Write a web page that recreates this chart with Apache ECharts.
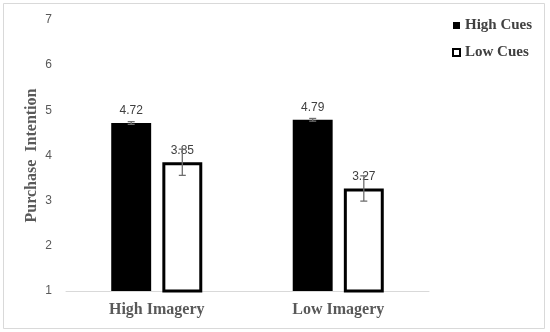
<!DOCTYPE html>
<html>
<head>
<meta charset="utf-8">
<script src="https://cdn.jsdelivr.net/npm/echarts@6/dist/echarts.min.js"></script>
<style>html,body{margin:0;padding:0;background:#fff}#c{width:550px;height:332px}</style>
</head>
<body>
<div id="c"></div>
<script>
var categories = ['High Imagery', 'Low Imagery'];
var seriesNames = ['High Cues', 'Low Cues'];
var highCues = [4.72, 4.79];
var lowCues = [3.85, 3.27];
var highCuesErr = [0.03, 0.03];
var lowCuesErr = [0.29, 0.28];
var yTicks = [1, 2, 3, 4, 5, 6, 7];

var BAR_PCT = 0.22, GAP_PCT = 0.28;

var errData = [];
[highCues, lowCues].forEach(function (vals, s) {
  var errs = s === 0 ? highCuesErr : lowCuesErr;
  vals.forEach(function (v, i) {
    errData.push([i, v - errs[i], v + errs[i], s]);
  });
});

var chart = echarts.init(document.getElementById('c'));
chart.setOption({
  animation: false,
  backgroundColor: '#fff',
  grid: { left: 66, right: 121, top: 20, bottom: 41 },
  legend: {
    orient: 'vertical',
    left: 452,
    top: 18,
    padding: 0,
    itemWidth: 7,
    itemHeight: 7,
    itemGap: 12,
    icon: 'rect',
    data: [
      { name: 'High Cues', itemStyle: { color: '#000', borderWidth: 0 } },
      { name: 'Low Cues', itemStyle: { color: '#fff', borderColor: '#000', borderWidth: 2 } }
    ],
    textStyle: { fontFamily: 'Liberation Serif', fontWeight: 'bold', fontSize: 15, color: '#404040' }
  },
  xAxis: {
    type: 'category',
    data: categories,
    axisLine: { show: true, lineStyle: { color: '#d9d9d9', width: 1 } },
    axisTick: { show: false },
    axisLabel: { fontFamily: 'Liberation Serif', fontWeight: 'bold', fontSize: 16, color: '#595959', margin: 11 }
  },
  yAxis: {
    type: 'value',
    min: yTicks[0],
    max: yTicks[yTicks.length - 1],
    interval: 1,
    name: 'Purchase  Intention',
    nameLocation: 'middle',
    nameGap: 26,
    nameMoveOverlap: false,
    nameTextStyle: { fontFamily: 'Liberation Serif', fontWeight: 'bold', fontSize: 16, color: '#595959' },
    axisLine: { show: false },
    axisTick: { show: false },
    splitLine: { show: false },
    axisLabel: { fontFamily: 'Liberation Sans', fontSize: 12, color: '#595959', margin: 14 }
  },
  series: [
    {
      name: seriesNames[0],
      type: 'bar',
      data: highCues,
      barWidth: (BAR_PCT * 100) + '%',
      barGap: (GAP_PCT * 100) + '%',
      itemStyle: { color: '#000' },
      label: { show: true, position: 'top', distance: 6, fontFamily: 'Liberation Sans', fontSize: 12, color: '#404040', formatter: function (p) { return p.value.toFixed(2); } }
    },
    {
      name: seriesNames[1],
      type: 'bar',
      data: lowCues,
      barWidth: (BAR_PCT * 100) + '%',
      barGap: (GAP_PCT * 100) + '%',
      itemStyle: { color: '#fff', borderColor: '#000', borderWidth: 3 },
      label: { show: true, position: 'top', distance: 6, fontFamily: 'Liberation Sans', fontSize: 12, color: '#404040', formatter: function (p) { return p.value.toFixed(2); } }
    },
    {
      type: 'custom',
      data: errData,
      encode: { x: 0, y: [1, 2] },
      z: 10,
      silent: true,
      renderItem: function (params, api) {
        var cat = api.value(0);
        var s = api.value(3);
        var band = api.size([1, 0])[0];
        var bw = band * BAR_PCT;
        var off = (bw + bw * GAP_PCT) / 2 * (s === 0 ? -1 : 1);
        var lo = api.coord([cat, api.value(1)]);
        var hi = api.coord([cat, api.value(2)]);
        var x = lo[0] + off;
        var hw = 3.5;
        var st = { stroke: '#6e6e6e', lineWidth: 1.3 };
        return {
          type: 'group',
          children: [
            { type: 'line', shape: { x1: x, y1: lo[1], x2: x, y2: hi[1] }, style: st },
            { type: 'line', shape: { x1: x - hw, y1: lo[1], x2: x + hw, y2: lo[1] }, style: st },
            { type: 'line', shape: { x1: x - hw, y1: hi[1], x2: x + hw, y2: hi[1] }, style: st }
          ]
        };
      }
    }
  ],
  graphic: [
    { type: 'rect', shape: { x: 3.5, y: 3.5, width: 541, height: 325 }, style: { fill: null, stroke: '#d9d9d9', lineWidth: 1 }, silent: true }
  ]
});
</script>
</body>
</html>
